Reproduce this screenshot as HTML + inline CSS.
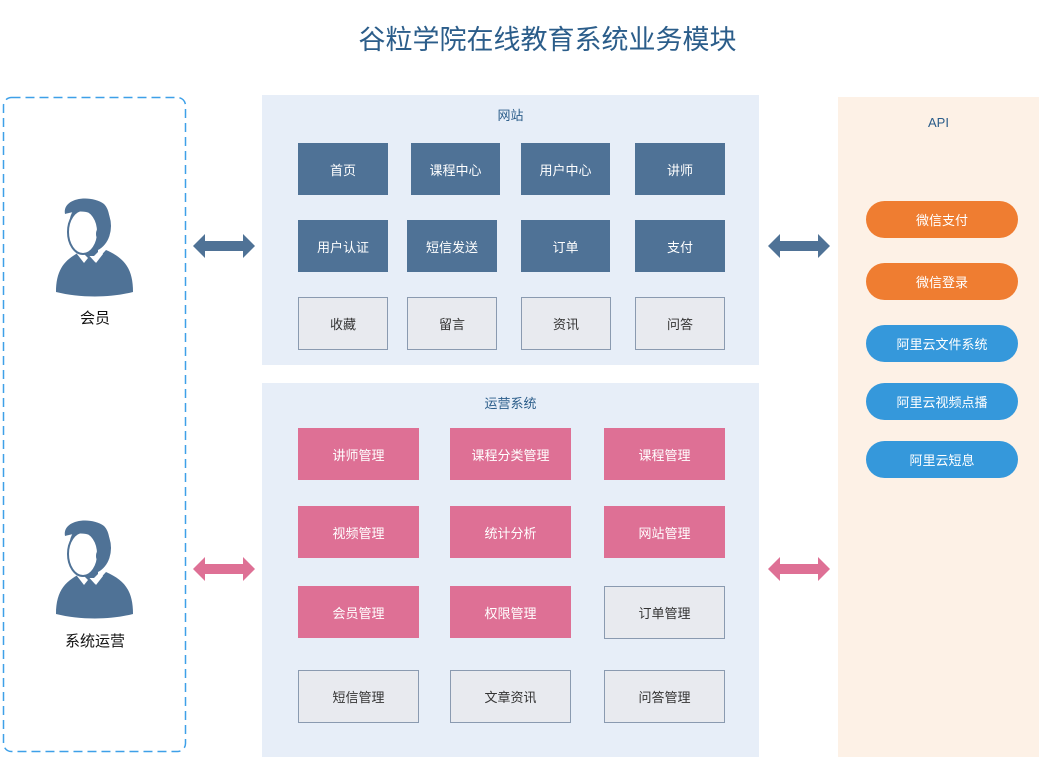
<!DOCTYPE html>
<html><head><meta charset="utf-8"><style>
body{margin:0;width:1039px;height:780px;background:#fff;position:relative;overflow:hidden;font-family:"Liberation Sans","Noto Sans CJK SC",sans-serif;}
.a{position:absolute;box-sizing:border-box;display:flex;align-items:center;justify-content:center;font-size:13px;}
.d{background:#4f7296;color:#fff;}
.l{background:#e8eaef;border:1px solid #8a9ab0;color:#333;}
.p{background:#de7095;color:#fff;}
.o{background:#ef7d31;color:#fff;border-radius:19px;}
.b{background:#3598db;color:#fff;border-radius:19px;}
</style></head><body>
<div class="a" style="left:0;top:17px;width:1095px;height:40px;font-size:27px;color:#2b5d8a;">谷粒学院在线教育系统业务模块</div>
<div style="position:absolute;left:262px;top:95px;width:497px;height:270px;background:#e7eef8;"></div>
<div style="position:absolute;left:262px;top:383px;width:497px;height:374px;background:#e7eef8;"></div>
<div style="position:absolute;left:838px;top:97px;width:201px;height:660px;background:#fdf1e6;"></div>
<div class="a" style="left:262px;top:104px;width:497px;height:20px;color:#2b5d8a;">网站</div>
<div class="a" style="left:262px;top:392px;width:497px;height:20px;color:#2b5d8a;">运营系统</div>
<div class="a" style="left:838px;top:112px;width:201px;height:20px;color:#2b5d8a;">API</div>

<div class="a d" style="left:298px;top:143px;width:90px;height:52px">首页</div>
<div class="a d" style="left:411px;top:143px;width:89px;height:52px">课程中心</div>
<div class="a d" style="left:521px;top:143px;width:89px;height:52px">用户中心</div>
<div class="a d" style="left:635px;top:143px;width:90px;height:52px">讲师</div>
<div class="a d" style="left:298px;top:220px;width:90px;height:52px">用户认证</div>
<div class="a d" style="left:407px;top:220px;width:90px;height:52px">短信发送</div>
<div class="a d" style="left:521px;top:220px;width:89px;height:52px">订单</div>
<div class="a d" style="left:635px;top:220px;width:90px;height:52px">支付</div>
<div class="a l" style="left:298px;top:297px;width:90px;height:53px">收藏</div>
<div class="a l" style="left:407px;top:297px;width:90px;height:53px">留言</div>
<div class="a l" style="left:521px;top:297px;width:90px;height:53px">资讯</div>
<div class="a l" style="left:635px;top:297px;width:90px;height:53px">问答</div>

<div class="a p" style="left:298px;top:428px;width:121px;height:52px">讲师管理</div>
<div class="a p" style="left:450px;top:428px;width:121px;height:52px">课程分类管理</div>
<div class="a p" style="left:604px;top:428px;width:121px;height:52px">课程管理</div>
<div class="a p" style="left:298px;top:506px;width:121px;height:52px">视频管理</div>
<div class="a p" style="left:450px;top:506px;width:121px;height:52px">统计分析</div>
<div class="a p" style="left:604px;top:506px;width:121px;height:52px">网站管理</div>
<div class="a p" style="left:298px;top:586px;width:121px;height:52px">会员管理</div>
<div class="a p" style="left:450px;top:586px;width:121px;height:52px">权限管理</div>
<div class="a l" style="left:604px;top:586px;width:121px;height:53px">订单管理</div>
<div class="a l" style="left:298px;top:670px;width:121px;height:53px">短信管理</div>
<div class="a l" style="left:450px;top:670px;width:121px;height:53px">文章资讯</div>
<div class="a l" style="left:604px;top:670px;width:121px;height:53px">问答管理</div>

<div class="a o" style="left:866px;top:201px;width:152px;height:37px">微信支付</div>
<div class="a o" style="left:866px;top:263px;width:152px;height:37px">微信登录</div>
<div class="a b" style="left:866px;top:325px;width:152px;height:37px">阿里云文件系统</div>
<div class="a b" style="left:866px;top:383px;width:152px;height:37px">阿里云视频点播</div>
<div class="a b" style="left:866px;top:441px;width:152px;height:37px">阿里云短息</div>

<svg width="1039" height="780" style="position:absolute;left:0;top:0">
<defs>
<g id="ar"><polygon points="0,12 12,0 12,7 50,7 50,0 62,12 50,24 50,17 12,17 12,24"/></g>
<g id="pp">
<path d="M56,292 C56,268 66,258 84,250 L95,262 L106,250 C124,258 133,268 133,292 C110,298 80,298 56,292 Z" fill="#4f7296"/>
<rect x="82" y="244" width="16" height="12" fill="#4f7296"/>
<polygon points="80,250 88,258 84,263 77,254" fill="#fff"/>
<polygon points="100,250 92,258 96,263 103,254" fill="#fff"/>
<ellipse cx="90" cy="226" rx="21" ry="26" fill="#4f7296"/>
<ellipse cx="83" cy="232" rx="15" ry="22" fill="#fff" stroke="#4f7296" stroke-width="2"/>
<path d="M65,214 C62,198 90,194 104,204 C110,210 111,222 108,234 L101,232 C100,222 96,215 90,213 C82,210 72,212 65,214 Z" fill="#4f7296"/>
<ellipse cx="101" cy="234" rx="5" ry="7" fill="#4f7296"/>
</g>
</defs>
<rect x="3.5" y="97.5" width="182" height="654" rx="8" fill="none" stroke="#3ea0e8" stroke-width="1.5" stroke-dasharray="9,5"/>
<g fill="#4f7296"><use href="#ar" x="193" y="234"/><use href="#ar" x="768" y="234"/></g>
<g fill="#de7095"><use href="#ar" x="193" y="557"/><use href="#ar" x="768" y="557"/></g>
<use href="#pp" x="0" y="0"/><use href="#pp" x="0" y="322"/>
</svg>
<div class="a" style="left:45px;top:307px;width:100px;height:20px;font-size:15px;color:#111">会员</div>
<div class="a" style="left:45px;top:630px;width:100px;height:20px;font-size:15px;color:#111">系统运营</div>
</body></html>
